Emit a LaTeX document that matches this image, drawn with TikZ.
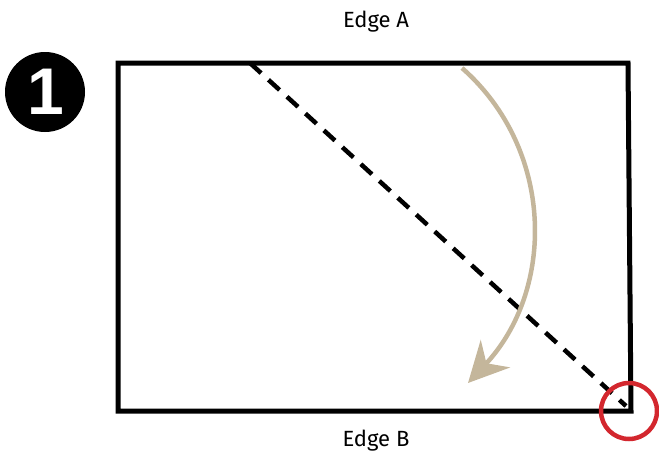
\documentclass[tikz,border=0pt]{standalone}
\usepackage{fontspec}
\setmainfont{Fira Sans}
\newfontfamily\numfont{Liberation Sans}
\usepackage{xcolor}
\usetikzlibrary{arrows.meta}
\definecolor{foldtan}{HTML}{C4B69B}
\definecolor{markred}{HTML}{D3272E}

\begin{document}
\begin{tikzpicture}[x=1pt, y=-1pt]

\useasboundingbox (0,0) rectangle (659,466);

\draw[line width=5pt, line join=miter] (118,63) -- (628,63) -- (631,411) -- (118,411) -- cycle; % sheet

\draw[line width=4.5pt, dash pattern=on 15pt off 10pt] (250,63) -- (626,406); % fold line

\draw[foldtan, line width=4.5pt, -{Stealth[length=40pt, width=40pt, inset=13pt]}]
  (462,68) .. controls (555,150) and (555,290) .. (468,383); % fold

\draw[markred, line width=4.5pt] (629,411) circle(28); % corner

\fill (45,92) circle(40);
\node[text=white, font=\numfont\bfseries\fontsize{66}{66}\selectfont] (num) at (46,92) {1};

\node[font=\fontsize{22}{24}\selectfont] (edgeA) at (376,22) {Edge A};
\node[font=\fontsize{22}{24}\selectfont] (edgeB) at (376,441) {Edge B};

\end{tikzpicture}
\end{document}
